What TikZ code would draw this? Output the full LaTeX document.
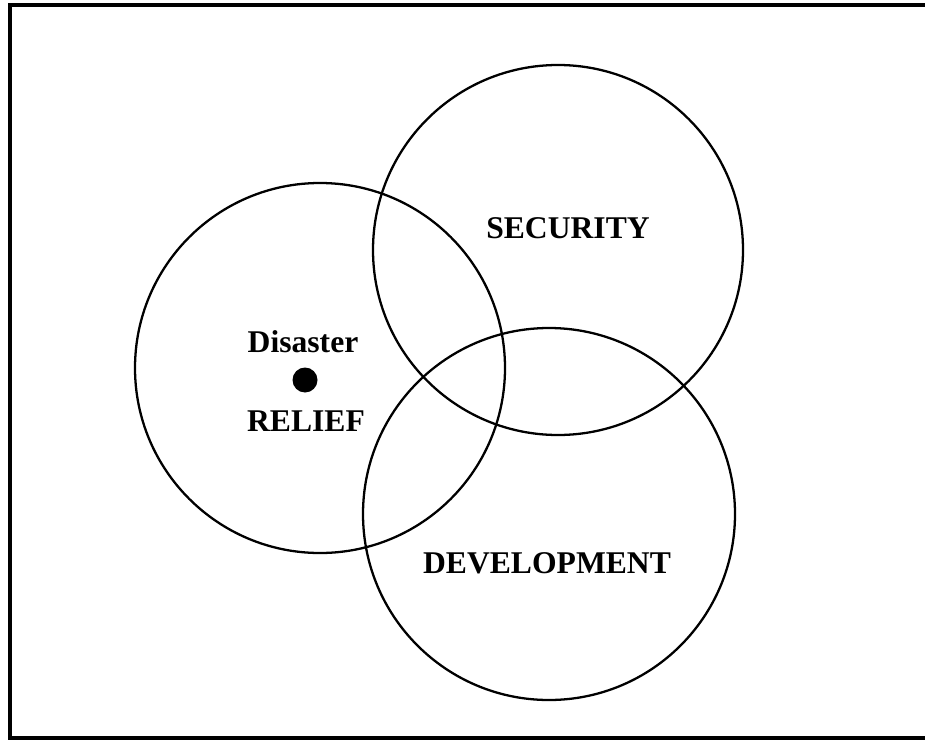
\documentclass[tikz,border=0pt]{standalone}
\usepackage{fontspec}
\setmainfont{Liberation Serif}
\usetikzlibrary{math}

\begin{document}
\begin{tikzpicture}[x=0.02cm, y=-0.02cm, line cap=round,
    ring/.style={circle, draw, line width=1.3pt, inner sep=0pt},
    lbl/.style={font=\bfseries\fontsize{18}{20}\selectfont, inner sep=0pt}]

    \tikzmath{
        \r = 185;
        \dd = 2*\r*0.02;
        \ddev = 2*186*0.02;
    };
    \useasboundingbox (0,0) rectangle (925,740);
    \draw[line width=2.6pt] (10,5) rectangle (935,738);

    \coordinate (Crel) at (320,368);
    \coordinate (Csec) at (558,250);
    \coordinate (Cdev) at (549,514);

    \node[ring, minimum size=\dd cm] (relief) at (Crel) {};
    \node[ring, minimum size=\dd cm] (security) at (Csec) {};
    \node[ring, minimum size=\ddev cm] (development) at (Cdev) {};

    \node[circle, fill, inner sep=0pt, minimum size=0.5cm] (dot) at (305,380) {};
    \node[lbl] (disaster) at (303,342) {Disaster};
    \node[lbl] (rel) at (306,421) {RELIEF};

    \node[lbl] (sec) at (568,228) {SECURITY};
    \node[lbl] (dev) at (547,563) {DEVELOPMENT};

\end{tikzpicture}
\end{document}
